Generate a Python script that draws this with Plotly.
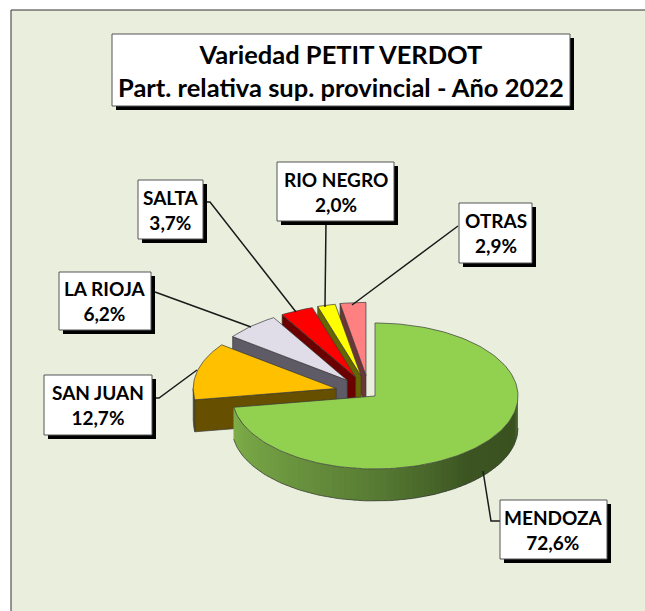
import math
import plotly.graph_objects as go

# ---- data ----
provinces = ["MENDOZA", "SAN JUAN", "LA RIOJA", "SALTA", "RIO NEGRO", "OTRAS"]
shares = [72.6, 12.7, 6.2, 3.7, 2.0, 2.9]
labels_pct = ["72,6%", "12,7%", "6,2%", "3,7%", "2,0%", "2,9%"]
top_colors = ["#92D050", "#FFC000", "#E0DCE8", "#FF0000", "#FFFF00", "#FF8080"]
wall_colors = ["#5A7F30", "#665000", "#5E5B66", "#6B0000", "#666600", "#6B3636"]
title_lines = ["Variedad PETIT VERDOT", "Part. relativa sup. provincial - Año 2022"]

# ---- geometry / style ----
W, H = 645, 611
CX, CY, RX, RY, DEPTH = 375, 396, 143, 73, 32
EXPLODE, SKEW_AXIS, SKEW = 0.29, 318, 0.8
BG = "#EAEFDD"
EDGE = "#3a3a3a"
FONT = "Lato"

boxes = {  # x0, y0, x1, y1
    "MENDOZA": (500, 500, 607, 559),
    "SAN JUAN": (44, 375, 152, 435),
    "LA RIOJA": (59, 272, 151, 330),
    "SALTA": (138, 180, 203, 239),
    "RIO NEGRO": (277, 162, 394, 221),
    "OTRAS": (459, 203, 532, 263),
}
leaders = {
    "MENDOZA": [(483, 471), (491, 521), (500, 521)],
    "SAN JUAN": [(155, 398), (159, 398), (197, 370)],
    "LA RIOJA": [(155, 292), (251, 327)],
    "SALTA": [(207, 202), (210, 202), (296, 312)],
    "RIO NEGRO": [(326, 221), (325, 307)],
    "OTRAS": [(458, 226), (352, 305)],
}
title_box = (112, 34, 570, 106)


def pt(ax, ay, deg, dy=0):
    r = math.radians(deg)
    return ax + RX * math.sin(r), ay - RY * math.cos(r) + dy


def arc(ax, ay, a0, a1, dy=0, step=1.5):
    n = max(2, int(abs(a1 - a0) / step) + 1)
    return [pt(ax, ay, a0 + (a1 - a0) * i / (n - 1), dy) for i in range(n)]


fig = go.Figure()


def poly(points, fill, line=EDGE, width=0.7):
    xs = [p[0] for p in points] + [points[0][0]]
    ys = [p[1] for p in points] + [points[0][1]]
    fig.add_trace(go.Scatter(x=xs, y=ys, mode="lines", fill="toself", fillcolor=fill,
                             line=dict(color=line, width=width), hoverinfo="skip", showlegend=False))


total = sum(shares)
spans, acc = [], 0.0
for s in shares:
    a0 = acc / total * 360
    acc += s
    spans.append((a0, acc / total * 360))

# exploded slices, back to front
for i in range(len(shares) - 1, 0, -1):
    a0, a1 = spans[i]
    mid = (a0 + a1) / 2
    eff = math.radians(SKEW_AXIS + SKEW * (mid - SKEW_AXIS))
    ax = CX + EXPLODE * RX * math.sin(eff)
    ay = CY - EXPLODE * RY * math.cos(eff)
    c = pt(ax, ay, a0)
    if a0 < 270:
        poly(arc(ax, ay, a0, 270) + arc(ax, ay, 270, a0, DEPTH), wall_colors[i])
    poly([(ax, ay), c, (c[0], c[1] + DEPTH), (ax, ay + DEPTH)], wall_colors[i])
    poly([(ax, ay)] + arc(ax, ay, a0, a1), top_colors[i])

# main slice: outer wall with shaded strips, then its top
a0, a1 = spans[0]
stops = [(90, (70, 100, 40)), (105, (58, 82, 32)), (140, (60, 85, 34)), (180, (88, 124, 52)),
         (225, (112, 155, 66)), (a1, (126, 175, 74))]


def shade(deg):
    for (d0, c0), (d1, c1) in zip(stops, stops[1:]):
        if d0 <= deg <= d1:
            t = (deg - d0) / (d1 - d0)
            return "rgb(%d,%d,%d)" % tuple(c0[k] + (c1[k] - c0[k]) * t for k in range(3))
    return "rgb(126,175,74)"


d = 90.0
while d < a1:
    e = min(d + 2.5, a1)
    col = shade((d + e) / 2)
    # each strip overlaps the next one, so no seams show between them
    poly(arc(CX, CY, d, min(e + 1.5, a1), 0, 0.8) + arc(CX, CY, min(e + 1.5, a1), d, DEPTH, 0.8), col, line=col, width=0)
    d = e
edge_pts = arc(CX, CY, 90, a1, DEPTH)
fig.add_trace(go.Scatter(x=[p[0] for p in edge_pts], y=[p[1] for p in edge_pts],
                         mode="lines", line=dict(color=EDGE, width=0.7), hoverinfo="skip", showlegend=False))
poly([(CX, CY)] + arc(CX, CY, 0, a1), top_colors[0])

# leader lines
for name, pts in leaders.items():
    fig.add_trace(go.Scatter(x=[p[0] for p in pts], y=[p[1] for p in pts], mode="lines",
                             line=dict(color="#1a1a1a", width=1.5), hoverinfo="skip", showlegend=False))

shapes = [dict(type="rect", xref="x", yref="y", x0=11, y0=10, x1=660, y1=630, layer="below",
               fillcolor=BG, line=dict(color="#333333", width=1))]
annotations = []


def card(box, text, size, sh=4):
    x0, y0, x1, y1 = box
    shapes.append(dict(type="rect", xref="x", yref="y", x0=x0 + sh, y0=y0 + sh, x1=x1 + sh, y1=y1 + sh,
                       fillcolor="#000000", line=dict(width=0)))
    shapes.append(dict(type="rect", xref="x", yref="y", x0=x0, y0=y0, x1=x1, y1=y1,
                       fillcolor="#FFFFFF", line=dict(color="#555555", width=1)))
    annotations.append(dict(x=(x0 + x1) / 2, y=(y0 + y1) / 2, xref="x", yref="y", text=text, showarrow=False,
                            align="center", font=dict(family=FONT, size=size, color="#000000")))


for name, pct in zip(provinces, labels_pct):
    card(boxes[name], f"<b>{name}</b><br><b>{pct}</b>", 19)
card(title_box, "<br>".join(f"<b>{t}</b>" for t in title_lines), 25.5)

fig.update_layout(
    width=W, height=H, margin=dict(l=0, r=0, t=0, b=0), paper_bgcolor="#FFFFFF", plot_bgcolor="#FFFFFF",
    xaxis=dict(range=[0, W], visible=False, fixedrange=True),
    yaxis=dict(range=[H, 0], visible=False, fixedrange=True),
    showlegend=False, shapes=shapes, annotations=annotations,
)
fig.write_html("out.html", config=dict(displayModeBar=False),
               post_script="document.body.style.margin='0';document.body.style.overflow='hidden';")
